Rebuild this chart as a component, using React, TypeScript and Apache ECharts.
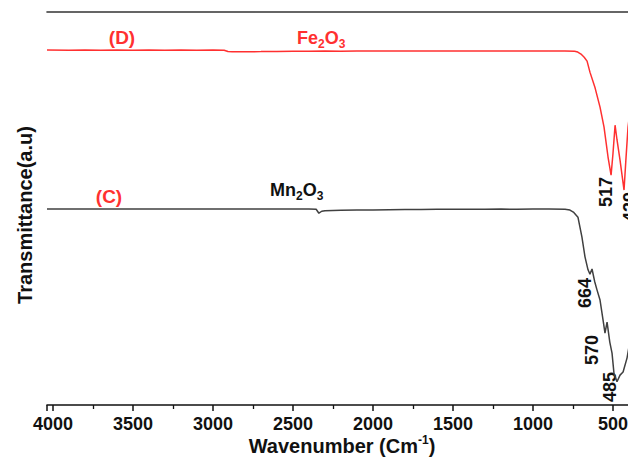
import React, { useEffect, useRef } from "react";
import * as echarts from "echarts";

// Wavenumber (cm-1) vs transmittance (a.u.)
const fe2o3: [number, number][] = [
  [4037, 90.3], [3900, 90.25], [3800, 90.3], [3700, 90.27], [3600, 90.3], [3500, 90.26],
  [3400, 90.3], [3300, 90.27], [3200, 90.3], [3100, 90.25], [3000, 90.3], [2930, 90.28],
  [2906, 89.95], [2880, 89.88], [2800, 89.9], [2700, 89.92], [2600, 89.95], [2500, 90.0],
  [2400, 90.02], [2300, 90.05], [2200, 90.03], [2100, 90.06], [2000, 90.05], [1900, 90.08],
  [1800, 90.05], [1700, 90.08], [1600, 90.06], [1500, 90.1], [1400, 90.07], [1300, 90.1],
  [1200, 90.08], [1100, 90.1], [1000, 90.1], [900, 90.08], [800, 90.05], [740, 90.0],
  [720, 89.8], [700, 89.3], [680, 88.5], [662, 87.5], [644, 84.7], [612, 80.7], [581, 75.8],
  [556, 70.7], [531, 63.1], [512, 58.5], [500, 64.0], [487, 71.2], [475, 67.5], [456, 62.3],
  [431, 54.7], [420, 62.0], [406, 70.7], [390, 76.0], [370, 80.0],
];

const mn2o3: [number, number][] = [
  [4037, 49.85], [3900, 49.9], [3800, 49.85], [3700, 49.9], [3600, 49.85], [3500, 49.9],
  [3400, 49.88], [3300, 49.9], [3200, 49.85], [3100, 49.9], [3000, 49.88], [2900, 49.85],
  [2800, 49.9], [2700, 49.85], [2600, 49.88], [2500, 49.85], [2400, 49.85], [2355, 49.8],
  [2338, 48.8], [2320, 49.3], [2300, 49.45], [2200, 49.55], [2100, 49.6], [2000, 49.65],
  [1900, 49.7], [1800, 49.75], [1700, 49.72], [1600, 49.78], [1500, 49.8], [1400, 49.82],
  [1300, 49.8], [1200, 49.85], [1100, 49.82], [1000, 49.85], [900, 49.85], [800, 49.8],
  [769, 49.6], [745, 49.0], [719, 47.8], [694, 42.7], [675, 37.7], [656, 34.4], [644, 33.3],
  [631, 34.6], [615, 31.5], [600, 29.3], [581, 26.7], [562, 21.6], [550, 18.3], [537, 21.1],
  [520, 16.0], [506, 13.2], [494, 8.1], [475, 5.9], [456, 7.6], [437, 8.4], [412, 12.0],
  [395, 16.0], [370, 20.0],
];

const xTicks = { min: 0, max: 4037, interval: 500 };
const peakLabelsD = ["517", "429"];
const peakLabelsC = ["664", "570", "485"];

const FONT = "'Liberation Sans', Arial, sans-serif";

export default function App() {
  const ref = useRef<HTMLDivElement>(null);
  useEffect(() => {
    if (!ref.current) return;
    const chart = echarts.init(ref.current, undefined, { renderer: "svg" });
    const red = "#ff3030";
    const dark = "#404040";
    const formula = (color: string) => ({
      m: { fontSize: 18, fontWeight: "bold", fontFamily: FONT, fill: color, lineHeight: 24 },
      s: { fontSize: 12, fontWeight: "bold", fontFamily: FONT, fill: color, lineHeight: 10, verticalAlign: "bottom" },
    });
    const rotLabel = (text: string, x: number, y: number) => ({
      type: "text",
      x, y, rotation: Math.PI / 2,
      style: { text, fontSize: 18, fontWeight: "bold", fontFamily: FONT, fill: "#111", align: "center", verticalAlign: "middle" },
    });
    chart.setOption({
      animation: false,
      grid: { left: 47, top: 12, width: 646, height: 393, outerBoundsMode: "none", containLabel: false },
      xAxis: [
        {
          type: "value", inverse: true, min: xTicks.min, max: xTicks.max, interval: xTicks.interval,
          axisLine: { show: true, lineStyle: { color: "#111", width: 1.6 } },
          axisTick: { show: true, length: 6, lineStyle: { color: "#111", width: 1.5 } },
          minorTick: { show: true, splitNumber: 2, length: 4, lineStyle: { color: "#111", width: 1.3 } },
          splitLine: { show: false },
          axisLabel: { fontSize: 18, fontWeight: "bold", color: "#111", fontFamily: FONT, margin: 10, formatter: (v: number) => String(v) },
        },
        {
          type: "value", position: "top", inverse: true, min: xTicks.min, max: xTicks.max, interval: xTicks.interval,
          axisLine: { show: true, lineStyle: { color: "#333", width: 1.6 } },
          axisTick: { show: false }, axisLabel: { show: false }, splitLine: { show: false },
        },
      ],
      yAxis: {
        type: "value", min: 0, max: 100,
        axisLine: { show: true, lineStyle: { color: "#111", width: 1.6 } },
        axisTick: { show: false }, axisLabel: { show: false }, splitLine: { show: false },
      },
      series: [
        { name: "Fe2O3 (D)", type: "line", data: fe2o3, showSymbol: false, lineStyle: { color: red, width: 1.5 } },
        { name: "Mn2O3 (C)", type: "line", data: mn2o3, showSymbol: false, lineStyle: { color: dark, width: 1.5 } },
      ],
      graphic: [
        { type: "text", x: 122, y: 37, style: { text: "(D)", fontSize: 19, fontWeight: "bold", fontFamily: FONT, fill: red, align: "center", verticalAlign: "middle" } },
        { type: "text", x: 109, y: 196, style: { text: "(C)", fontSize: 19, fontWeight: "bold", fontFamily: FONT, fill: red, align: "center", verticalAlign: "middle" } },
        { type: "text", x: 297, y: 38, style: { text: "{m|Fe}{s|2}{m|O}{s|3}", rich: formula(red), align: "left", verticalAlign: "middle" } },
        { type: "text", x: 270, y: 190, style: { text: "{m|Mn}{s|2}{m|O}{s|3}", rich: formula("#111"), align: "left", verticalAlign: "middle" } },
        rotLabel(peakLabelsD[0], 606, 192),
        rotLabel(peakLabelsD[1], 630, 207),
        rotLabel(peakLabelsC[0], 585, 293),
        rotLabel(peakLabelsC[1], 592, 350),
        rotLabel(peakLabelsC[2], 610, 387),
        {
          type: "text", x: 25, y: 215, rotation: Math.PI / 2,
          style: { text: "Transmittance(a.u)", fontSize: 20, fontWeight: "bold", fontFamily: FONT, fill: "#111", align: "center", verticalAlign: "middle" },
        },
        {
          type: "text", x: 342, y: 446,
          style: {
            text: "{m|Wavenumber (Cm}{u|-1}{m|)}",
            align: "center", verticalAlign: "middle",
            rich: {
              m: { fontSize: 20, fontWeight: "bold", fontFamily: FONT, fill: "#111", lineHeight: 24 },
              u: { fontSize: 12, fontWeight: "bold", fontFamily: FONT, fill: "#111", lineHeight: 10, verticalAlign: "top" },
            },
          },
        },
      ],
    });
    return () => chart.dispose();
  }, []);
  return <div ref={ref} style={{ width: 628, height: 461, position: "absolute", left: 0, top: 0 }} />;
}
